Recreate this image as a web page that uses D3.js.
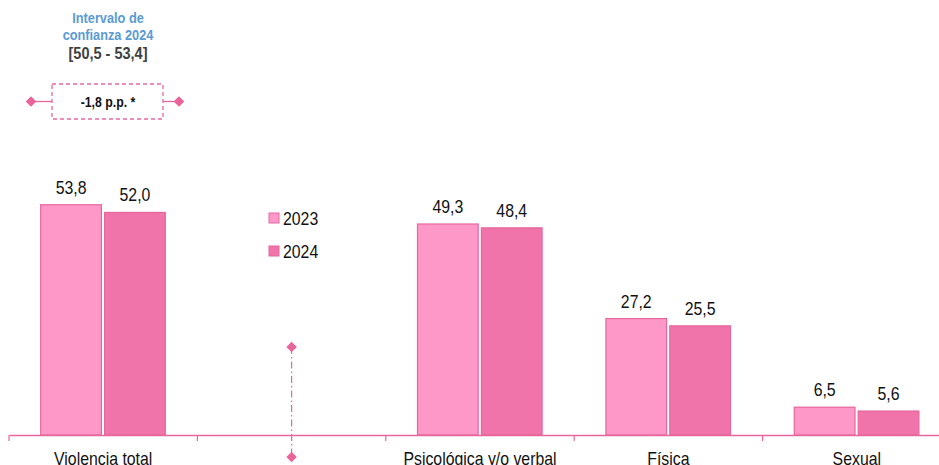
<!DOCTYPE html>
<html>
<head>
<meta charset="utf-8">
<script src="https://cdn.jsdelivr.net/npm/d3@7"></script>
<style>
  body { margin: 0; background: #fff; }
  svg text { font-family: "Liberation Sans", Arial, sans-serif; }
</style>
</head>
<body>
<script>
var categories = ["Violencia total", "gap", "Psicológica y/o verbal", "Física", "Sexual"];
var catLabels = ["Violencia total", "", "Psicológica y/o verbal", "Física", "Sexual"];
var years = ["2023", "2024"];
var values2023 = [53.8, null, 49.3, 27.2, 6.5];
var values2024 = [52.0, null, 48.4, 25.5, 5.6];
var ciLines = ["Intervalo de", "confianza 2024"];
var ciRange = "[50,5 - 53,4]";
var diffLabel = "-1,8 p.p. *";

var width = 939, height = 465;
var base = 435;
var colors = { "2023": "#fd98c9", "2024": "#f073a9" };
var pink = "#e7679d";
var narrow = 0.88; // emulate a condensed face

var fmt = function(v){ return d3.format(".1f")(v).replace(".", ","); };

var data = categories.map(function(c, i){
  return { key: c, label: catLabels[i], vals: [
    { year: "2023", v: values2023[i] }, { year: "2024", v: values2024[i] } ] };
});

var svg = d3.select("body").append("svg").attr("width", width).attr("height", height);

// text placed at (px,py) squeezed horizontally
function ntext(sel, px, py){
  return sel.append("text")
    .attr("transform", "translate(" + px + "," + py + ") scale(" + narrow + ",1)");
}

var x = d3.scaleBand().domain(categories).range([9, 951]);
var x1 = d3.scaleBand().domain(years).range([31.7, 156.3]).paddingInner(0.05);
var y = d3.scaleLinear().domain([0, 100]).range([base, 7]);

// bars
var groups = svg.selectAll("g.cat").data(data).enter().append("g")
  .attr("class", "cat")
  .attr("transform", function(d){ return "translate(" + x(d.key) + ",0)"; });

var bars = groups.selectAll("g.bar").data(function(d){ return d.vals.filter(function(e){ return e.v != null; }); })
  .enter().append("g").attr("class", "bar");

bars.append("rect")
  .attr("x", function(d){ return x1(d.year); })
  .attr("y", function(d){ return y(d.v); })
  .attr("width", x1.bandwidth())
  .attr("height", function(d){ return base - y(d.v); })
  .attr("fill", function(d){ return colors[d.year]; })
  .attr("stroke", pink).attr("stroke-width", 1.2);

bars.each(function(d){
  ntext(d3.select(this), x1(d.year) + x1.bandwidth() / 2, y(d.v) - 11)
    .attr("text-anchor", "middle")
    .style("font-size", "18px").attr("fill", "#111")
    .text(fmt(d.v));
});

// axis
var xAxis = d3.axisBottom(x).tickSize(0).tickFormat(function(d, i){ return catLabels[i]; });
var ax = svg.append("g").attr("transform", "translate(0," + base + ")").call(xAxis);
ax.select(".domain").attr("stroke", pink).attr("stroke-width", 1.5);
ax.selectAll("text").attr("y", 17).attr("dy", "0.71em")
  .attr("transform", "scale(" + narrow + ",1)")
  .style("font-size", "18px").attr("fill", "#111");

svg.append("g").selectAll("line").data(categories).enter().append("line")
  .attr("x1", function(d){ return x(d); }).attr("x2", function(d){ return x(d); })
  .attr("y1", base).attr("y2", base + 6)
  .attr("stroke", pink).attr("stroke-width", 1.2);

// legend
var legend = svg.append("g").attr("transform", "translate(269,213)");
years.forEach(function(yr, i){
  var g = legend.append("g").attr("transform", "translate(0," + (i * 33) + ")");
  g.append("rect").attr("width", 10).attr("height", 10)
    .attr("fill", colors[yr]).attr("stroke", pink).attr("stroke-width", 1);
  ntext(g, 14, 12).style("font-size", "18px").attr("fill", "#111").text(yr);
});

// diamond helper
function diamond(cx, cy){
  svg.append("path")
    .attr("d", d3.symbol().type(d3.symbolDiamond2).size(70)())
    .attr("transform", "translate(" + cx + "," + cy + ")")
    .attr("fill", "#e8649a");
}

// confidence interval annotation
var ann = svg.append("g");
ciLines.forEach(function(t, i){
  ntext(ann, 108, 23 + i * 17).attr("text-anchor", "middle")
    .style("font-size", "14.5px").style("font-weight", "bold").attr("fill", "#5b9bd5").text(t);
});
ntext(ann, 108, 59).attr("text-anchor", "middle")
  .style("font-size", "16.5px").style("font-weight", "bold").attr("fill", "#404040").text(ciRange);

ann.append("rect").attr("x", 52).attr("y", 84).attr("width", 111).attr("height", 35)
  .attr("fill", "none").attr("stroke", pink).attr("stroke-width", 1.3).attr("stroke-dasharray", "4,3");
ann.append("line").attr("x1", 31).attr("x2", 52).attr("y1", 101.5).attr("y2", 101.5).attr("stroke", pink).attr("stroke-width", 1.3);
ann.append("line").attr("x1", 163).attr("x2", 179).attr("y1", 101.5).attr("y2", 101.5).attr("stroke", pink).attr("stroke-width", 1.3);
diamond(31, 101.5);
diamond(179, 101.5);
ntext(ann, 108, 107).attr("text-anchor", "middle")
  .style("font-size", "14px").style("font-weight", "bold").attr("fill", "#111").text(diffLabel);

// separator dash-dot line
var sepX = x("gap") + x.bandwidth() / 2;
svg.append("line").attr("x1", sepX).attr("x2", sepX).attr("y1", 347).attr("y2", 457)
  .attr("stroke", pink).attr("stroke-width", 1.2).attr("stroke-dasharray", "7,3,1.5,3");
diamond(sepX, 347);
diamond(sepX, 457);
</script>
</body>
</html>
